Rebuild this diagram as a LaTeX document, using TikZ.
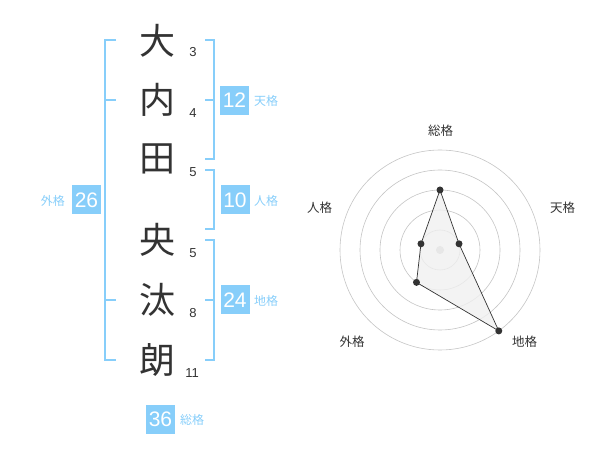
\documentclass[tikz,border=0pt]{standalone}
\usepackage{fontspec}
\usetikzlibrary{calc}
\setmainfont{Noto Sans CJK JP}
\newfontfamily\digitfont{Liberation Sans}
\definecolor{nblue}{HTML}{87CEFA}
\definecolor{ink}{HTML}{333333}
\definecolor{ringc}{HTML}{C4C4C4}
\definecolor{polyc}{HTML}{F0F0F0}
\tikzset{
 kanji/.style={font=\fontsize{36}{36}\selectfont, text=ink, inner sep=0pt},
 strokes/.style={font=\digitfont\fontsize{13}{13}\selectfont, text=ink, inner sep=0pt},
 valbox/.style={fill=nblue, text=white, minimum width=29pt, minimum height=29pt, inner sep=0pt, font=\digitfont\fontsize{21}{21}\selectfont},
 vallabel/.style={text=nblue, font=\fontsize{12}{12}\selectfont, inner sep=0pt},
 brk/.style={draw=nblue, line width=2pt},
 ring/.style={draw=ringc, line width=0.6pt},
 axlabel/.style={text=ink, font=\fontsize{12.5}{12.5}\selectfont, inner sep=0pt},
 dotpt/.style={circle, fill=ink, minimum size=7pt, inner sep=0pt},
}
\begin{document}
\begin{tikzpicture}[x=1pt,y=-1pt]
\useasboundingbox (0,0) rectangle (600,470);
% name characters
\node[kanji] (k1) at (157,41) {大};
\node[kanji] (k2) at (157,100) {内};
\node[kanji] (k3) at (157,159) {田};
\node[kanji] (k4) at (157,240) {央};
\node[kanji] (k5) at (157,300) {汰};
\node[kanji] (k6) at (157,360) {朗};
% strokes
\node[strokes] (s1) at (193,52) {3};
\node[strokes] (s2) at (193,113) {4};
\node[strokes] (s3) at (193,172) {5};
\node[strokes] (s4) at (193,253) {5};
\node[strokes] (s5) at (193,313) {8};
\node[strokes] (s6) at (192,373) {11};
% brackets
\draw[brk] (116,40) -- (105,40) -- (105,360) -- (116,360);
\draw[brk] (105,100) -- (116,100);
\draw[brk] (105,300) -- (116,300);
\draw[brk] (205,40) -- (214,40) -- (214,159) -- (205,159);
\draw[brk] (205,100) -- (214,100);
\draw[brk] (205,170) -- (214,170) -- (214,229) -- (205,229);
\draw[brk] (205,240) -- (214,240) -- (214,360) -- (205,360);
\draw[brk] (205,300) -- (214,300);
% value boxes
\node[valbox] (ten) at (234.5,100.5) {12};
\node[vallabel, anchor=west] (tenl) at (254,101) {天格};
\node[valbox] (jin) at (235,200) {10};
\node[vallabel, anchor=west] (jinl) at (254,201) {人格};
\node[valbox] (chi) at (235,300) {24};
\node[vallabel, anchor=west] (chil) at (254,301) {地格};
\node[valbox] (gai) at (86.5,200) {26};
\node[vallabel, anchor=east] (gail) at (65,201) {外格};
\node[valbox] (sou) at (160.5,419) {36};
\node[vallabel, anchor=west] (soul) at (180,420) {総格};
% radar
\coordinate (c) at (440,250);
\foreach \r in {20,40,60,80,100} \draw[ring] (c) circle (\r);
\fill[ringc] (c) circle (4);
\coordinate (pS) at ($(c)+(-90:60)$);
\coordinate (pT) at ($(c)+(-18:20)$);
\coordinate (pC) at ($(c)+(54:100)$);
\coordinate (pG) at ($(c)+(126:40)$);
\coordinate (pJ) at ($(c)+(198:20)$);
\filldraw[fill=polyc, fill opacity=0.8, draw=ink, line width=0.7pt] (pS) -- (pT) -- (pC) -- (pG) -- (pJ) -- cycle;
\foreach \p in {pS,pT,pC,pG,pJ} \node[dotpt] at (\p) {};
\node[axlabel] (aS) at (440.5,130.5) {総格};
\node[axlabel] (aT) at (562.5,208) {天格};
\node[axlabel] (aC) at (524.5,342) {地格};
\node[axlabel] (aG) at (352,342) {外格};
\node[axlabel] (aJ) at (319.5,208) {人格};
\end{tikzpicture}
\end{document}
